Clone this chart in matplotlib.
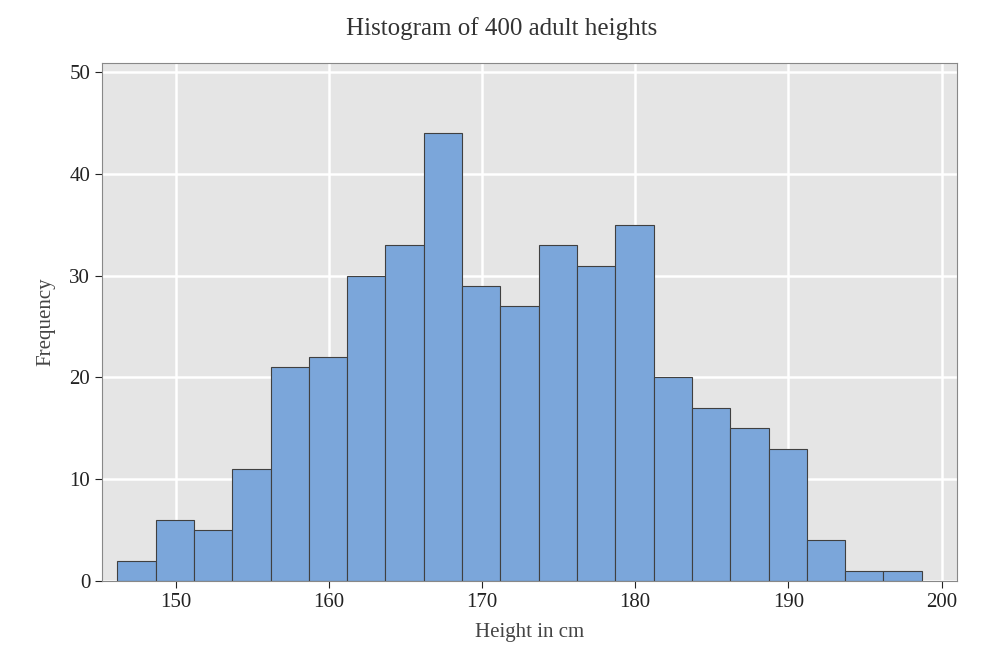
import matplotlib
matplotlib.use("Agg")
import matplotlib.pyplot as plt
import numpy as np

plt.rcParams['font.family'] = ['Liberation Serif', 'DejaVu Serif']

counts = [2, 6, 5, 11, 21, 22, 30, 33, 44, 29, 27, 33, 31, 35, 20, 17, 15, 13, 4, 1, 1]
bin_start = 146.2
bin_width = 2.5
xticks = [150, 160, 170, 180, 190, 200]
yticks = [0, 10, 20, 30, 40, 50]

edges = bin_start + bin_width * np.arange(len(counts))

fig = plt.figure(figsize=(10.04, 6.68), dpi=100)
ax = fig.add_axes([102/1004, 1-581/668, 855/1004, 518/668])
ax.set_facecolor('#e5e5e5')
ax.set_axisbelow(True)
ax.grid(True, color='white', linewidth=1.8)
ax.bar(edges, counts, width=bin_width, align='edge', color='#7ba6da',
       edgecolor='#404040', linewidth=0.8)
ax.set_xlim(145.2, 201.0)
ax.set_ylim(0, 50.9)
ax.set_xticks(xticks)
ax.set_yticks(yticks)
ax.tick_params(labelsize=15, colors='#222222', length=5)
for s in ax.spines.values():
    s.set_color('#888888')
ax.set_xlabel('Height in cm', fontsize=15, color='#444444', labelpad=8)
ax.set_ylabel('Frequency', fontsize=15, color='#444444', labelpad=10)
fig.suptitle('Histogram of 400 adult heights', fontsize=18, color='#333333', y=0.975)
fig.savefig('out.png', dpi=100)
